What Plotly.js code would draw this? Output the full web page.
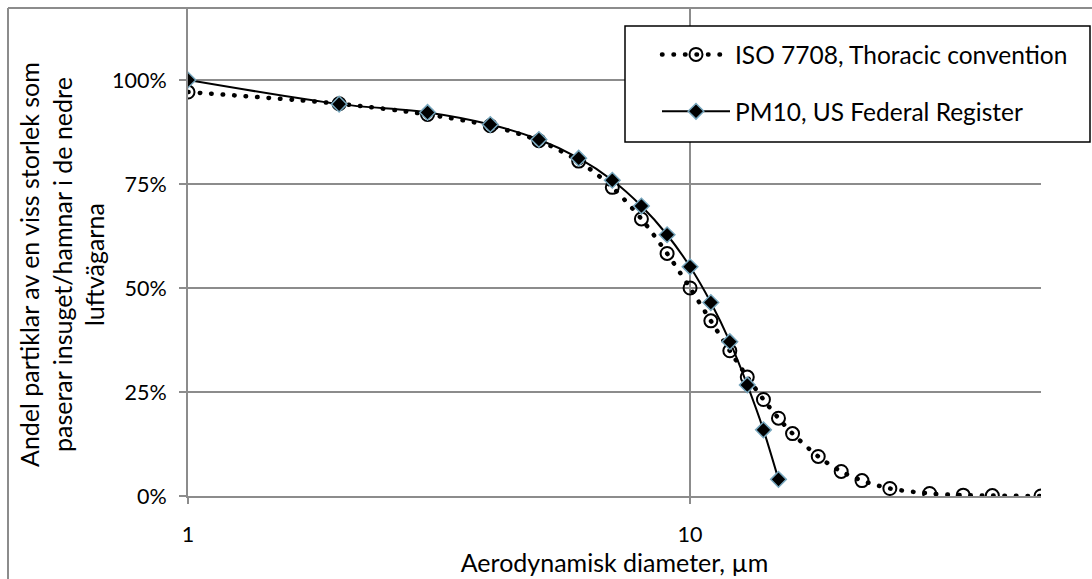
<!DOCTYPE html>
<html>
<head>
<meta charset="utf-8">
<script src="https://cdn.plot.ly/plotly-3.0.1.min.js"></script>
<style>html,body{margin:0;padding:0;background:#fff;}#chart{width:1092px;height:579px;}</style>
</head>
<body>
<div id="chart"></div>
<script>
// ISO 7708 thoracic convention
const isoDiameter = [1,2,3,4,5,6,7,8,9,10,11,12,13,14,15,16,18,20,22,25,30,35,40,50];
const isoFraction = [0.971,0.943,0.917,0.890,0.854,0.805,0.742,0.666,0.583,0.500,0.421,0.349,0.286,0.232,0.187,0.150,0.095,0.059,0.037,0.018,0.006,0.002,0.001,0.000];
// PM10, US Federal Register
const pmDiameter = [1,2,3,4,5,6,7,8,9,10,11,12,13,14,15];
const pmFraction = [1.000,0.942,0.922,0.893,0.857,0.812,0.759,0.697,0.628,0.551,0.465,0.371,0.267,0.159,0.040];
const seriesNames = ["ISO 7708, Thoracic convention","PM10, US Federal Register"];
const xTickVals = [1,10];
const xTickText = ["1","10"];
const yTickVals = [0,0.25,0.5,0.75,1];
const yTickText = ["0%","25%","50%","75%","100%"];
const xTitle = "Aerodynamisk diameter, µm";
const yTitle = "Andel partiklar av en viss storlek som<br>paserar insuget/hamnar i de nedre<br>luftvägarna";

const FONT = "Lato, 'Open Sans', sans-serif";
const grid = "#8c8c8c";

// plot area in pixels: x 188..1041, y 8..496
const px = v => (v - 188) / 853;
const py = v => (496 - v) / 488;

const traces = [
  {
    x: isoDiameter, y: isoFraction, name: seriesNames[0], type: "scatter", mode: "lines+markers",
    legendgroup: "a",
    line: {color: "#000", width: 4.5, dash: "0.5px,11px", shape: "spline", smoothing: 0.8},
    marker: {symbol: "circle-open", size: 13, color: "#000", line: {width: 2, color: "#000"}}
  },
  {
    x: pmDiameter, y: pmFraction, name: seriesNames[1], type: "scatter", mode: "lines+markers",
    legendgroup: "b",
    line: {color: "#000", width: 2, shape: "spline", smoothing: 0.8},
    marker: {symbol: "diamond", size: 12, color: "#000", line: {width: 1.5, color: "#76a6bd"}}
  }
];

const layout = {
  width: 1092, height: 579,
  margin: {l: 188, r: 51, t: 8, b: 83},
  paper_bgcolor: "#fff", plot_bgcolor: "#fff",
  font: {family: FONT, size: 21.5, color: "#000"},
  showlegend: true,
  legend: {
    x: px(657), y: py(32), xanchor: "left", yanchor: "top",
    bgcolor: "rgba(0,0,0,0)", borderwidth: 0,
    font: {family: FONT, size: 24.5, color: "#000"},
    traceorder: "grouped", tracegroupgap: 22, itemwidth: 68
  },
  xaxis: {
    type: "log", range: [0, Math.log10(50)],
    tickvals: xTickVals, ticktext: xTickText,
    showgrid: true, gridcolor: grid, gridwidth: 2,
    showline: true, linecolor: grid, linewidth: 2,
    ticks: "outside", ticklen: 6, tickcolor: grid, tickwidth: 2,
    tickfont: {family: FONT, size: 21.5},
    ticklabelstandoff: 12,
    zeroline: false,
    title: {text: xTitle, font: {family: FONT, size: 25}, standoff: 8}
  },
  yaxis: {
    range: [0, 488/416],
    tickvals: yTickVals, ticktext: yTickText,
    showgrid: true, gridcolor: grid, gridwidth: 2,
    showline: true, linecolor: grid, linewidth: 2,
    ticks: "outside", ticklen: 7, tickcolor: grid, tickwidth: 2,
    tickfont: {family: FONT, size: 21.5},
    ticklabelstandoff: 8,
    zeroline: false
  },
  annotations: [
    {text: yTitle, xref: "paper", yref: "paper", x: px(61), y: py(265),
     xanchor: "center", yanchor: "middle", textangle: -90, showarrow: false,
     font: {family: FONT, size: 25, color: "#000"}, align: "center"}
  ],
  shapes: [
    {type: "line", xref: "paper", yref: "paper", x0: px(8), x1: 1.1, y0: 1, y1: 1, line: {color: grid, width: 2}},
    {type: "line", xref: "paper", yref: "paper", x0: px(8), x1: px(8), y0: 1, y1: -0.2, line: {color: grid, width: 2}},
    {type: "rect", xref: "paper", yref: "paper", layer: "above",
     x0: px(625), x1: px(1090), y0: py(142), y1: py(26),
     fillcolor: "#fff", line: {color: "#000", width: 1.5}}
  ]
};

function roundDots() {
  // give the dotted ISO series round dots, as in the original
  document.querySelectorAll("#chart path").forEach(p => {
    const d = p.style.strokeDasharray || p.getAttribute("stroke-dasharray") || "";
    if (d.indexOf("0.5") === 0) p.style.strokeLinecap = "round";
  });
}

Plotly.newPlot("chart", traces, layout, {displayModeBar: false, staticPlot: true}).then(roundDots);
</script>
</body>
</html>
